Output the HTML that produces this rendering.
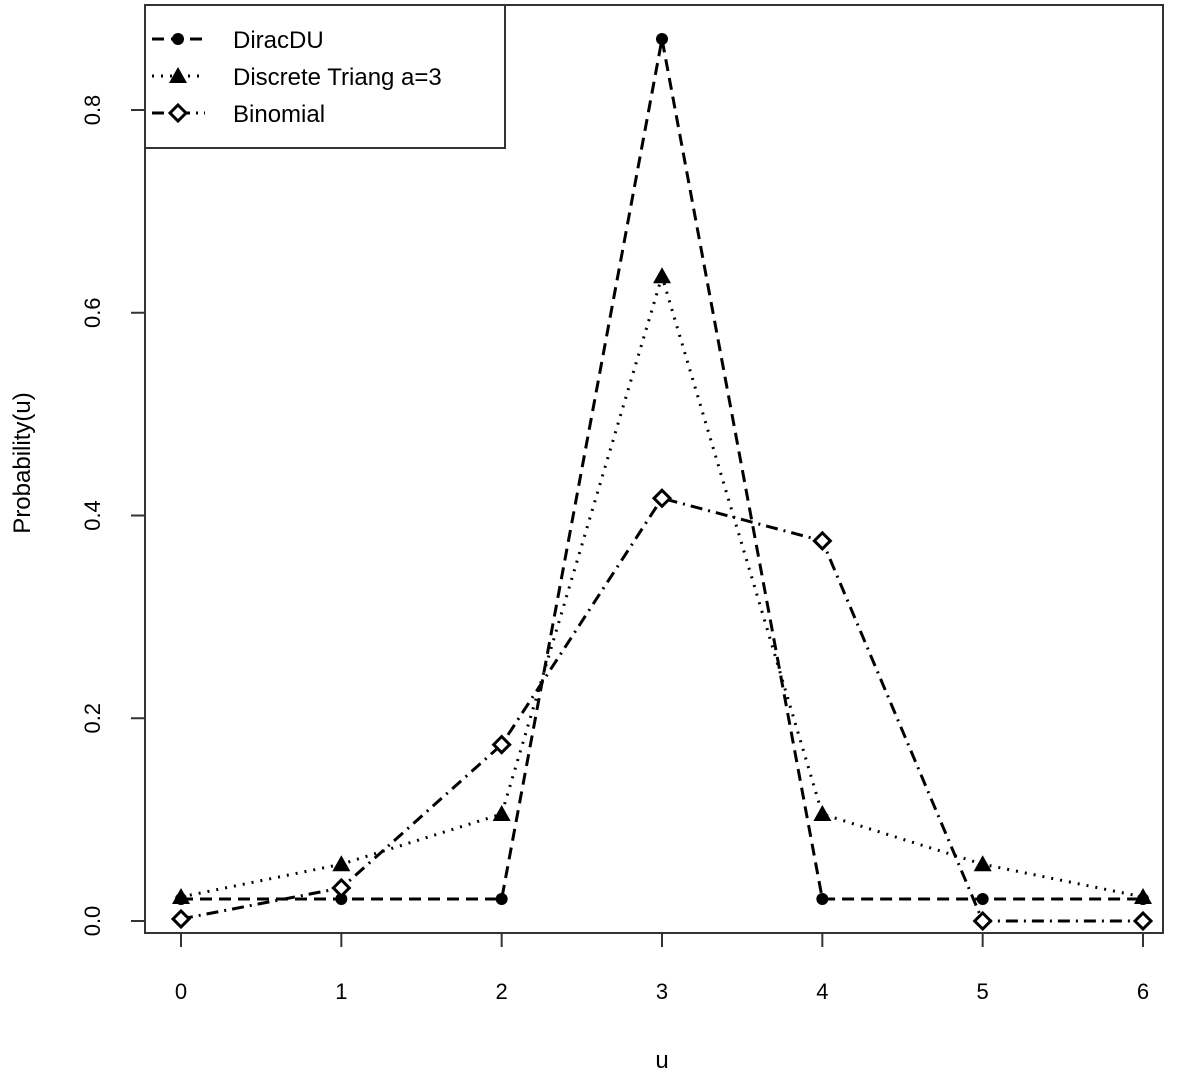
<!DOCTYPE html>
<html><head><meta charset="utf-8"><style>
body{margin:0;background:#fff}
svg{display:block;font-family:"Liberation Sans",sans-serif}
</style></head><body>
<svg id="chart" width="1188" height="1076" viewBox="0 0 1188 1076">
<rect x="145" y="5" width="1018" height="928" fill="none" stroke="#333" stroke-width="2"/>
<g id="axes"></g>
<g id="series"></g>
<text x="662" y="1068" font-size="24" text-anchor="middle">u</text>
<text transform="translate(30,463) rotate(-90)" font-size="24" text-anchor="middle">Probability(u)</text>
<g>
<rect x="145" y="5" width="360" height="143" fill="#fff" stroke="#333" stroke-width="2"/>
<g>
<line x1="152" y1="39" x2="205" y2="39" stroke="#000" stroke-width="3" stroke-dasharray="12,7"/>
<circle cx="178" cy="39" r="6" fill="#000"/>
<text x="233" y="48" font-size="24">DiracDU</text></g>
<g>
<line x1="152" y1="76" x2="205" y2="76" stroke="#000" stroke-width="3" stroke-dasharray="2,7"/>
<polygon points="178,67 187,83 169,83" fill="#000"/>
<text x="233" y="85" font-size="24">Discrete Triang a=3</text></g>
<g>
<line x1="152" y1="113" x2="205" y2="113" stroke="#000" stroke-width="3" stroke-dasharray="12,6,2,6"/>
<polygon points="178,105 186,113 178,121 170,113" fill="#fff" stroke="#000" stroke-width="3"/>
<text x="233" y="122" font-size="24">Binomial</text></g>
</g>
</svg>
<script>
const categories=[0,1,2,3,4,5,6];
const diracValues=[0.0217,0.0217,0.0217,0.87,0.0217,0.0217,0.0217];
const triangValues=[0.0237,0.056,0.1055,0.636,0.1055,0.056,0.0237];
const binomValues=[0.002,0.0326,0.174,0.417,0.375,0.0,0.0];
const yTicks=[0,0.2,0.4,0.6,0.8];
const yTickLabels=["0.0","0.2","0.4","0.6","0.8"];
const xTickLabels=["0","1","2","3","4","5","6"];
const NS="http://www.w3.org/2000/svg";
function xs(v){return 181+(v-0)*(1143-181)/6;}
function ys(v){return 921-v*(921-110)/0.8;}
function mk(tag,attrs,parent){const e=document.createElementNS(NS,tag);for(const k in attrs)e.setAttribute(k,attrs[k]);parent.appendChild(e);return e;}
const axes=document.getElementById('axes');
const yl=mk('line',{x1:145,y1:ys(0),x2:145,y2:ys(0.8),stroke:'#333','stroke-width':2},axes);


const xl=mk('line',{x1:xs(0),y1:933,x2:xs(6),y2:933,stroke:'#333','stroke-width':2},axes);


yTicks.forEach((t,i)=>{
 const l=mk('line',{x1:131,y1:ys(t),x2:145,y2:ys(t),stroke:'#333','stroke-width':2},axes);
 
 
 const tx=mk('text',{transform:`translate(100,${ys(t)}) rotate(-90)`,'font-size':22,'text-anchor':'middle'},axes);
 tx.textContent=yTickLabels[i];
 
 
});
categories.forEach((c,i)=>{
 const l=mk('line',{x1:xs(c),y1:933,x2:xs(c),y2:947,stroke:'#333','stroke-width':2},axes);
 
 
 const tx=mk('text',{x:xs(c),y:999,'font-size':22,'text-anchor':'middle'},axes);
 tx.textContent=xTickLabels[i];
 
 
});
const sg=document.getElementById('series');
function line(vals,dash,name){
 const p=mk('polyline',{points:categories.map((c,i)=>xs(c)+','+ys(vals[i])).join(' '),fill:'none',stroke:'#000','stroke-width':3,'stroke-dasharray':dash},sg);
 
 
}
line(diracValues,'12,7','diracdu-line');
line(triangValues,'2,7','triang-line');
line(binomValues,'12,6,2,6','binomial-line');
categories.forEach((c,i)=>{
 const x=xs(c);
 let y=ys(diracValues[i]);
 const a=mk('circle',{cx:x,cy:y,r:6,fill:'#000'},sg);
 
 
 y=ys(triangValues[i]);
 const b=mk('polygon',{points:`${x},${y-9} ${x+9},${y+7} ${x-9},${y+7}`,fill:'#000'},sg);
 
 
 y=ys(binomValues[i]);
 const d=mk('polygon',{points:`${x},${y-8} ${x+8},${y} ${x},${y+8} ${x-8},${y}`,fill:'#fff',stroke:'#000','stroke-width':3},sg);
 
 
});
</script>
</body></html>
